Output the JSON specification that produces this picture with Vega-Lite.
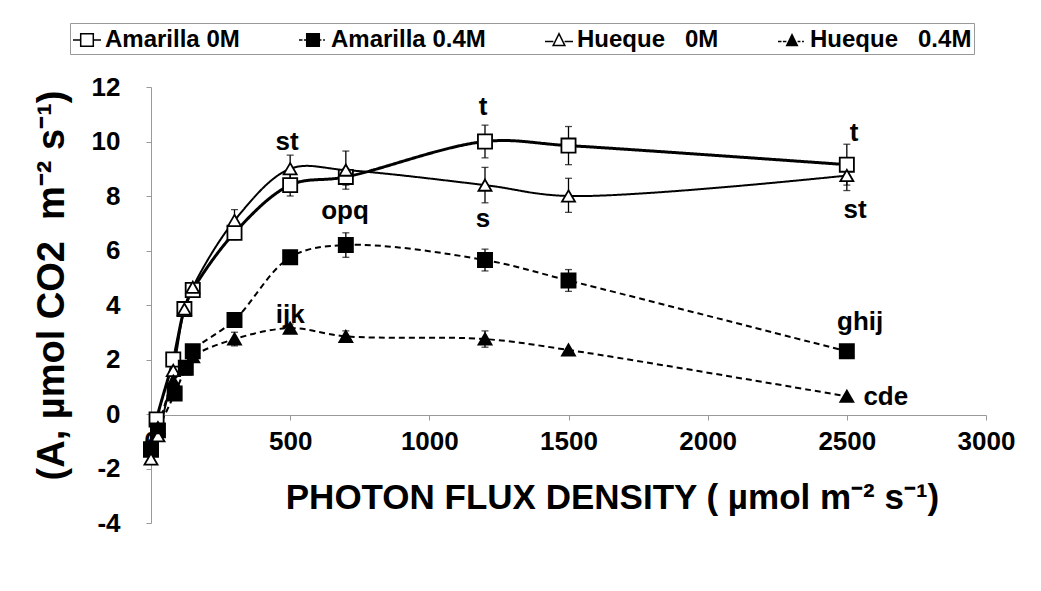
{
  "$schema": "https://vega.github.io/schema/vega-lite/v6.json",
  "width": 835,
  "height": 436,
  "autosize": {"type": "none"},
  "padding": {"left": 151, "top": 87, "right": 55, "bottom": 68},
  "background": "white",
  "config": {
    "view": {"stroke": null},
    "font": "Liberation Sans"
  },
  "datasets": {
    "curves": [
      {"series": "Amarilla 0M", "x": 0, "A": -1.3},
      {"series": "Amarilla 0M", "x": 20, "A": -0.2},
      {"series": "Amarilla 0M", "x": 80, "A": 2.0},
      {"series": "Amarilla 0M", "x": 120, "A": 3.85},
      {"series": "Amarilla 0M", "x": 150, "A": 4.55},
      {"series": "Amarilla 0M", "x": 300, "A": 6.65, "lo": 6.4, "hi": 6.9},
      {"series": "Amarilla 0M", "x": 500, "A": 8.4, "lo": 8.0, "hi": 8.8},
      {"series": "Amarilla 0M", "x": 700, "A": 8.7, "lo": 8.4, "hi": 9.0},
      {"series": "Amarilla 0M", "x": 1200, "A": 10.0, "lo": 9.4, "hi": 10.6},
      {"series": "Amarilla 0M", "x": 1500, "A": 9.85, "lo": 9.15, "hi": 10.55},
      {"series": "Amarilla 0M", "x": 2500, "A": 9.15, "lo": 8.4, "hi": 9.9},
      {"series": "Amarilla 0.4M", "x": 0, "A": -1.3},
      {"series": "Amarilla 0.4M", "x": 25, "A": -0.6},
      {"series": "Amarilla 0.4M", "x": 85, "A": 0.75},
      {"series": "Amarilla 0.4M", "x": 125, "A": 1.7},
      {"series": "Amarilla 0.4M", "x": 150, "A": 2.3},
      {"series": "Amarilla 0.4M", "x": 300, "A": 3.45, "lo": 3.2, "hi": 3.7},
      {"series": "Amarilla 0.4M", "x": 500, "A": 5.75, "lo": 5.5, "hi": 6.0},
      {"series": "Amarilla 0.4M", "x": 700, "A": 6.2, "lo": 5.75, "hi": 6.65},
      {"series": "Amarilla 0.4M", "x": 1200, "A": 5.65, "lo": 5.25, "hi": 6.05},
      {"series": "Amarilla 0.4M", "x": 1500, "A": 4.9, "lo": 4.5, "hi": 5.3},
      {"series": "Amarilla 0.4M", "x": 2500, "A": 2.3},
      {"series": "Hueque\u00a0\u00a0 0M", "x": 0, "A": -1.65},
      {"series": "Hueque\u00a0\u00a0 0M", "x": 25, "A": -0.8},
      {"series": "Hueque\u00a0\u00a0 0M", "x": 80, "A": 1.6},
      {"series": "Hueque\u00a0\u00a0 0M", "x": 120, "A": 3.85},
      {"series": "Hueque\u00a0\u00a0 0M", "x": 150, "A": 4.65},
      {"series": "Hueque\u00a0\u00a0 0M", "x": 300, "A": 7.1, "lo": 6.7, "hi": 7.5},
      {"series": "Hueque\u00a0\u00a0 0M", "x": 500, "A": 9.0, "lo": 8.5, "hi": 9.5},
      {"series": "Hueque\u00a0\u00a0 0M", "x": 700, "A": 8.95, "lo": 8.25, "hi": 9.65},
      {"series": "Hueque\u00a0\u00a0 0M", "x": 1200, "A": 8.4, "lo": 7.75, "hi": 9.05},
      {"series": "Hueque\u00a0\u00a0 0M", "x": 1500, "A": 8.0, "lo": 7.4, "hi": 8.65},
      {"series": "Hueque\u00a0\u00a0 0M", "x": 2500, "A": 8.75, "lo": 8.2, "hi": 9.3},
      {"series": "Hueque\u00a0\u00a0 0.4M", "x": 0, "A": -1.1},
      {"series": "Hueque\u00a0\u00a0 0.4M", "x": 25, "A": -0.5},
      {"series": "Hueque\u00a0\u00a0 0.4M", "x": 80, "A": 1.2},
      {"series": "Hueque\u00a0\u00a0 0.4M", "x": 120, "A": 1.65},
      {"series": "Hueque\u00a0\u00a0 0.4M", "x": 150, "A": 2.1},
      {"series": "Hueque\u00a0\u00a0 0.4M", "x": 300, "A": 2.75, "lo": 2.5, "hi": 3.0},
      {"series": "Hueque\u00a0\u00a0 0.4M", "x": 500, "A": 3.15, "lo": 3.0, "hi": 3.3},
      {"series": "Hueque\u00a0\u00a0 0.4M", "x": 700, "A": 2.85, "lo": 2.65, "hi": 3.05},
      {"series": "Hueque\u00a0\u00a0 0.4M", "x": 1200, "A": 2.75, "lo": 2.45, "hi": 3.05},
      {"series": "Hueque\u00a0\u00a0 0.4M", "x": 1500, "A": 2.35},
      {"series": "Hueque\u00a0\u00a0 0.4M", "x": 2500, "A": 0.65}
    ],
    "letters": [
      {"x": 489, "A": 10.0, "label": "st"},
      {"x": 1193, "A": 11.25, "label": "t"},
      {"x": 2526, "A": 10.33, "label": "t"},
      {"x": 2530, "A": 7.47, "label": "st"},
      {"x": 1193, "A": 7.14, "label": "s"},
      {"x": 697, "A": 7.44, "label": "opq"},
      {"x": 500, "A": 3.63, "label": "ijk"},
      {"x": 2548, "A": 3.37, "label": "ghij"},
      {"x": 2640, "A": 0.62, "label": "cde"}
    ]
  },
  "encoding": {
    "x": {
      "field": "x", "type": "quantitative",
      "scale": {"domain": [0, 3000], "nice": false, "zero": false},
      "axis": {
        "values": [0, 500, 1000, 1500, 2000, 2500, 3000],
        "format": "d",
        "offset": -108,
        "grid": false,
        "domainColor": "#999999",
        "tickColor": "#999999",
        "tickSize": 5,
        "labelFont": "Liberation Sans",
        "labelFontWeight": "bold",
        "labelFontSize": 26,
        "labelColor": "black",
        "labelPadding": 8,
        "labelFlush": false,
        "title": "PHOTON FLUX DENSITY ( \u00b5mol m\u207b\u00b2 s\u207b\u00b9)",
        "titleFont": "Liberation Sans",
        "titleFontWeight": "bold",
        "titleFontSize": 35,
        "titleColor": "black",
        "titleX": 461,
        "titleY": 82,
        "titleBaseline": "middle",
        "titleAlign": "center"
      }
    },
    "y": {
      "field": "A", "type": "quantitative",
      "scale": {"domain": [-4, 12], "nice": false, "zero": false},
      "axis": {
        "values": [-4, -2, 0, 2, 4, 6, 8, 10, 12],
        "labelExpr": "datum.value < 0 ? '-' + abs(datum.value) : '' + datum.value",
        "grid": false,
        "domainColor": "#999999",
        "tickColor": "#999999",
        "tickSize": 5,
        "labelFont": "Liberation Sans",
        "labelFontWeight": "bold",
        "labelFontSize": 26,
        "labelColor": "black",
        "labelPadding": 26,
        "labelFlush": false,
        "title": "(A, \u00b5mol CO2 \u00a0m\u207b\u00b2 s\u207b\u00b9)",
        "titleFont": "Liberation Sans",
        "titleFontWeight": "bold",
        "titleFontSize": 38,
        "titleColor": "black",
        "titleAngle": 270,
        "titleX": -99,
        "titleY": 198,
        "titleBaseline": "middle",
        "titleAlign": "center"
      }
    }
  },
  "layer": [
    {
      "data": {"name": "curves"},
      "mark": {"type": "line", "interpolate": "catmull-rom", "color": "black"},
      "encoding": {
        "detail": {"field": "series", "type": "nominal"},
        "strokeDash": {
          "condition": {"test": "indexof(datum.series, '0.4M') >= 0", "value": [6, 4]},
          "value": [1, 0]
        },
        "strokeWidth": {
          "condition": {"test": "datum.series === 'Amarilla 0M'", "value": 3},
          "value": 2
        }
      }
    },
    {
      "data": {"name": "curves"},
      "transform": [{"filter": "isValid(datum.lo)"}],
      "mark": {"type": "rule", "color": "black", "strokeWidth": 1.3},
      "encoding": {
        "y": {"field": "lo", "type": "quantitative"},
        "y2": {"field": "hi"}
      }
    },
    {
      "data": {"name": "curves"},
      "transform": [{"filter": "isValid(datum.lo)"}],
      "mark": {"type": "tick", "color": "black", "orient": "horizontal", "size": 7, "thickness": 1.3},
      "encoding": {
        "y": {"field": "lo", "type": "quantitative"}
      }
    },
    {
      "data": {"name": "curves"},
      "transform": [{"filter": "isValid(datum.hi)"}],
      "mark": {"type": "tick", "color": "black", "orient": "horizontal", "size": 7, "thickness": 1.3},
      "encoding": {
        "y": {"field": "hi", "type": "quantitative"}
      }
    },
    {
      "data": {"name": "curves"},
      "mark": {"type": "point", "strokeWidth": 1.5, "opacity": 1, "filled": true, "size": 1},
      "encoding": {
        "shape": {
          "field": "series", "type": "nominal",
          "scale": {
            "domain": ["Amarilla 0M", "Amarilla 0.4M", "Hueque\u00a0\u00a0 0M", "Hueque\u00a0\u00a0 0.4M"],
            "range": [
              "M-1,0H-0.45M0.45,0H1M-0.45,-0.45H0.45V0.45H-0.45Z",
              "M-1,0H-0.75M-0.65,0H-0.45M0.45,0H0.6M0.72,0H0.85M-0.45,-0.45H0.45V0.45H-0.45Z",
              "M-1,0.1H-0.4M0.4,0.1H1M-0.42,0.4L0,-0.45L0.42,0.4Z",
              "M-1,0.1H-0.75M-0.65,0.1H-0.4M0.4,0.1H0.6M0.72,0.1H0.85M-0.38,0.4L0,-0.38L0.38,0.4Z"
            ]
          },
          "legend": {
            "title": null,
            "orient": "none",
            "legendX": -81,
            "legendY": -64,
            "direction": "horizontal",
            "columns": 4,
            "columnPadding": 56,
            "padding": 2,
            "fillColor": "white",
            "strokeColor": "#999999",
            "symbolSize": 784,
            "symbolStrokeWidth": 1.5,
            "symbolStrokeColor": "black",
            "labelFont": "Liberation Sans",
            "labelFontWeight": "bold",
            "labelFontSize": 24,
            "labelColor": "black",
            "labelOffset": 3,
            "labelLimit": 300
          }
        },
        "fill": {
          "field": "series", "type": "nominal",
          "scale": {
            "domain": ["Amarilla 0M", "Amarilla 0.4M", "Hueque\u00a0\u00a0 0M", "Hueque\u00a0\u00a0 0.4M"],
            "range": ["white", "black", "white", "black"]
          }
        },
        "stroke": {
          "field": "series", "type": "nominal",
          "scale": {
            "domain": ["Amarilla 0M", "Amarilla 0.4M", "Hueque\u00a0\u00a0 0M", "Hueque\u00a0\u00a0 0.4M"],
            "range": ["black", "black", "black", "black"]
          }
        }
      }
    },
    {
      "data": {"name": "curves"},
      "mark": {"type": "point", "stroke": "black", "strokeWidth": 1.8, "opacity": 1, "filled": true},
      "encoding": {
        "shape": {
          "condition": {"test": "indexof(datum.series, 'Hueque') >= 0", "value": "triangle-up"},
          "value": "square"
        },
        "fill": {
          "condition": {"test": "indexof(datum.series, '0.4M') >= 0", "value": "black"},
          "value": "white"
        },
        "size": {
          "condition": {"test": "indexof(datum.series, 'Amarilla') >= 0", "value": 200},
          "value": 170
        }
      }
    },
    {
      "data": {"name": "letters"},
      "mark": {"type": "text", "font": "Liberation Sans", "fontWeight": "bold", "fontSize": 26, "color": "black", "align": "center", "baseline": "middle"},
      "encoding": {
        "text": {"field": "label"}
      }
    }
  ]
}
